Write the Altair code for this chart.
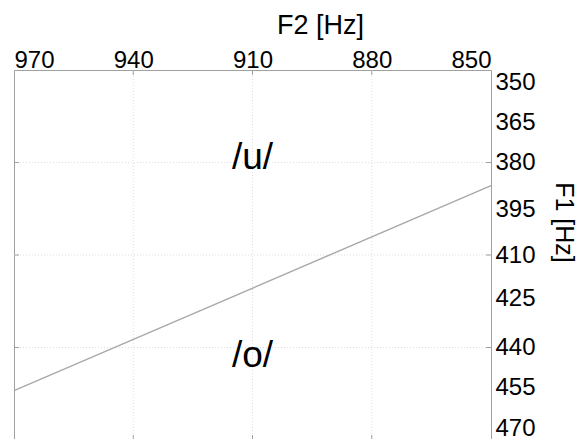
import altair as alt
import pandas as pd

f2_ticks = [970, 940, 910, 880, 850]
f1_ticks = [350, 365, 380, 395, 410, 425, 440, 455, 470]
f2_grid = [940, 910, 880]
f1_grid = [380, 410, 440]
line_f2 = [970, 850]
line_f1 = [454.0, 387.5]
label_text = ["/u/", "/o/"]
label_f2 = [910, 910]
label_f1 = [378.6, 442.6]

FONT = "Liberation Sans"
W, H = 477, 370
TICK = 5
GRID = "#dedede"
TICKC = "#a0a0a0"

xscale = alt.Scale(domain=[970, 850], nice=False, zero=False)
yscale = alt.Scale(domain=[350, 470], reverse=True, nice=False, zero=False)

line_df = pd.DataFrame({"f2": line_f2, "f1": line_f1})
text_df = pd.DataFrame({"f2": label_f2, "f1": label_f1, "t": label_text})
gx_df = pd.DataFrame({"f2": f2_grid})
gy_df = pd.DataFrame({"f1": f1_grid})

xaxis = alt.Axis(
    orient="top", values=f2_ticks, title="F2 [Hz]", format="d",
    labelFlush=True, ticks=False, labelPadding=3, labelBaseline="alphabetic",
    titleX=306, titleY=-45, titleBaseline="middle", titleAlign="center",
)
yaxis = alt.Axis(
    orient="right", values=f1_ticks, title="F1 [Hz]", format="d",
    labelFlush=True, ticks=False, labelPadding=4,
    labelOffset={"condition": [
        {"test": "datum.value == 365", "value": 6},
        {"test": "datum.value == 395", "value": 1},
        {"test": "datum.value == 425", "value": -3},
        {"test": "datum.value == 455", "value": -6},
    ], "value": 0},
    titleX=72, titleY=152, titleBaseline="middle", titleAlign="center",
    titleFontSize=25,
)

gridx = alt.Chart(gx_df).mark_rule(color=GRID, strokeDash=[1, 2], strokeWidth=1).encode(
    x=alt.X("f2:Q", scale=xscale, axis=xaxis), y=alt.value(0), y2=alt.value(H))
gridy = alt.Chart(gy_df).mark_rule(color=GRID, strokeDash=[1, 2], strokeWidth=1).encode(
    y=alt.Y("f1:Q", scale=yscale, axis=yaxis), x=alt.value(0), x2=alt.value(W))

tick_top = alt.Chart(gx_df).mark_rule(color=TICKC, strokeWidth=1).encode(
    x=alt.X("f2:Q", scale=xscale), y=alt.value(0), y2=alt.value(TICK))
tick_bot = alt.Chart(gx_df).mark_rule(color=TICKC, strokeWidth=1).encode(
    x=alt.X("f2:Q", scale=xscale), y=alt.value(H - TICK), y2=alt.value(H))
tick_left = alt.Chart(gy_df).mark_rule(color=TICKC, strokeWidth=1).encode(
    y=alt.Y("f1:Q", scale=yscale), x=alt.value(0), x2=alt.value(TICK))
tick_right = alt.Chart(gy_df).mark_rule(color=TICKC, strokeWidth=1).encode(
    y=alt.Y("f1:Q", scale=yscale), x=alt.value(W - TICK), x2=alt.value(W))

line = alt.Chart(line_df).mark_line(color="#a8a8a8", strokeWidth=1.4).encode(
    x=alt.X("f2:Q", scale=xscale),
    y=alt.Y("f1:Q", scale=yscale),
)

text = alt.Chart(text_df).mark_text(fontSize=37, font=FONT, color="#000", baseline="middle", align="center").encode(
    x=alt.X("f2:Q", scale=xscale),
    y=alt.Y("f1:Q", scale=yscale),
    text="t:N",
)

chart = alt.layer(gridx, gridy, tick_top, tick_bot, tick_left, tick_right, line, text).properties(
    width=W, height=H,
    autosize=alt.AutoSizeParams(type="none"),
    padding={"left": 6, "top": 62, "right": 87, "bottom": 0},
).configure_view(
    stroke="#a0a0a0", strokeWidth=1
).configure_axis(
    domain=False, grid=False,
    labelFont=FONT, labelFontSize=24, labelColor="#000",
    titleFont=FONT, titleFontSize=27, titleColor="#000", titleFontWeight="normal",
)

chart.save("out.html", embed_options={"renderer": "svg", "actions": False})
